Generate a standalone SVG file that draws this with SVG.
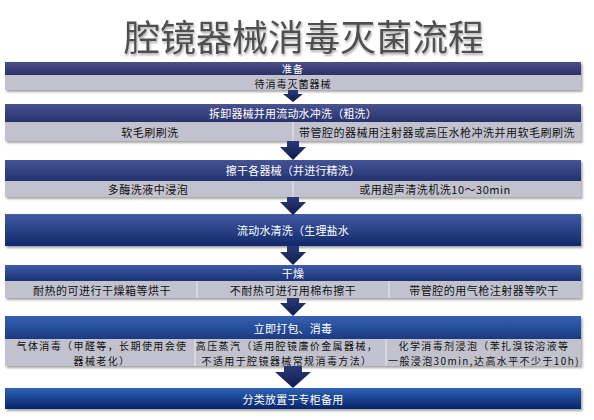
<svg xmlns="http://www.w3.org/2000/svg" width="594" height="420" viewBox="0 0 594 420">
<defs>
<linearGradient id="g1" x1="0" y1="0" x2="0" y2="1"><stop offset="0" stop-color="#4c5089"/><stop offset="1" stop-color="#2c3068"/></linearGradient>
<linearGradient id="g2" x1="0" y1="0" x2="0" y2="1"><stop offset="0" stop-color="#495290"/><stop offset="1" stop-color="#29326c"/></linearGradient>
<linearGradient id="g3" x1="0" y1="0" x2="0" y2="1"><stop offset="0" stop-color="#455496"/><stop offset="1" stop-color="#24326e"/></linearGradient>
<linearGradient id="g4" x1="0" y1="0" x2="0" y2="1"><stop offset="0" stop-color="#405ba4"/><stop offset="1" stop-color="#12286a"/></linearGradient>
<linearGradient id="g5" x1="0" y1="0" x2="0" y2="1"><stop offset="0" stop-color="#3c5ca8"/><stop offset="1" stop-color="#1b3173"/></linearGradient>
<linearGradient id="g6" x1="0" y1="0" x2="0" y2="1"><stop offset="0" stop-color="#3562b2"/><stop offset="1" stop-color="#1c3a82"/></linearGradient>
<linearGradient id="g7" x1="0" y1="0" x2="0" y2="1"><stop offset="0" stop-color="#2f62b6"/><stop offset="1" stop-color="#05246a"/></linearGradient>
<linearGradient id="ga" x1="0" y1="0" x2="0" y2="1"><stop offset="0" stop-color="#2a3a78"/><stop offset="1" stop-color="#101c50"/></linearGradient>
<filter id="sh" x="-5%" y="-30%" width="110%" height="170%"><feDropShadow dx="1.5" dy="2" stdDeviation="1.2" flood-color="#000" flood-opacity="0.35"/></filter>
<filter id="tsh" x="-10%" y="-20%" width="120%" height="150%"><feDropShadow dx="1" dy="2" stdDeviation="1" flood-color="#888" flood-opacity="0.7"/></filter>
</defs>
<style>
text{font-family:"Noto Sans CJK SC","Noto Sans",sans-serif;text-anchor:middle;dominant-baseline:central}
.title{font-size:36px;fill:#4f4f4f;dominant-baseline:auto}
.h{font-size:11px;fill:#ffffff;letter-spacing:0.2px}
.t{font-size:11px;fill:#111111;letter-spacing:0.5px}
.s{font-size:10px;letter-spacing:1px}
.t2{font-size:10px;fill:#111111;letter-spacing:1.4px}
.row{fill:#c1c2cd}
.div{stroke:#e4e5ec;stroke-width:1.2}
.arrow{fill:url(#ga)}
</style>
<rect width="594" height="420" fill="#ffffff"/>
<text class="title" x="304" y="51" filter="url(#tsh)">腔镜器械消毒灭菌流程</text>

<g id="step1" filter="url(#sh)">
<rect x="5" y="62" width="576" height="13" fill="url(#g1)"/>
<rect class="row" x="5" y="75" width="576" height="15"/>
</g>
<g id="step1-text"><text class="h s" x="293" y="68.5">准备</text><text class="t s" x="293" y="83">待消毒灭菌器械</text></g>

<g id="step2" filter="url(#sh)">
<rect x="5" y="104" width="576" height="18" fill="url(#g2)"/>
<rect class="row" x="5" y="122" width="576" height="19"/>
</g>
<g id="step2-text">
<line class="div" x1="293" y1="122" x2="293" y2="141"/>
<text class="h" x="293" y="113">拆卸器械并用流动水冲洗（粗洗）</text>
<text class="t" x="150" y="131.5">软毛刷刷洗</text>
<text class="t" x="437" y="131.5">带管腔的器械用注射器或高压水枪冲洗并用软毛刷刷洗</text>
</g>

<g id="step3" filter="url(#sh)">
<rect x="5" y="160" width="576" height="21" fill="url(#g3)"/>
<rect class="row" x="5" y="181" width="576" height="16"/>
</g>
<g id="step3-text">
<line class="div" x1="293" y1="181" x2="293" y2="197"/>
<text class="h" x="293" y="170">擦干各器械（并进行精洗）</text>
<text class="t" x="148" y="189">多酶洗液中浸泡</text>
<text class="t" x="435" y="189">或用超声清洗机洗10～30min</text>
</g>

<g id="step4" filter="url(#sh)">
<rect x="5" y="214" width="576" height="32" fill="url(#g4)"/>
</g>
<g id="step4-text"><text class="h" x="293" y="230">流动水清洗（生理盐水</text></g>

<g id="step5" filter="url(#sh)">
<rect x="5" y="265" width="576" height="16" fill="url(#g5)"/>
<rect class="row" x="5" y="281" width="576" height="17"/>
</g>
<g id="step5-text">
<line class="div" x1="197" y1="281" x2="197" y2="298"/>
<line class="div" x1="389" y1="281" x2="389" y2="298"/>
<text class="h" x="293" y="273">干燥</text>
<text class="t" x="102" y="289.5">耐热的可进行干燥箱等烘干</text>
<text class="t" x="293" y="289.5">不耐热可进行用棉布擦干</text>
<text class="t" x="484" y="289.5">带管腔的用气枪注射器等吹干</text>
</g>

<g id="step6" filter="url(#sh)">
<rect x="5" y="316" width="576" height="23" fill="url(#g6)"/>
<rect class="row" x="5" y="339" width="576" height="27"/>
</g>
<g id="step6-text">
<line class="div" x1="195" y1="339" x2="195" y2="366"/>
<line class="div" x1="386" y1="339" x2="386" y2="366"/>
<text class="h" x="293" y="328">立即打包、消毒</text>
<text class="t2" x="102" y="345.5">气体消毒（甲醛等，长期使用会使</text>
<text class="t2" x="102" y="360.5">器械老化）</text>
<text class="t2" x="287" y="345.5">高压蒸汽（适用腔镜廉价金属器械，</text>
<text class="t2" x="287" y="360.5">不适用于腔镜器械常规消毒方法）</text>
<text class="t2" x="484" y="345.5">化学消毒剂浸泡（苯扎溴铵溶液等</text>
<text class="t2" x="484" y="360.5">一般浸泡30min,达高水平不少于10h)</text>
</g>

<g id="step7" filter="url(#sh)">
<rect x="5" y="388" width="576" height="21" fill="url(#g7)"/>
</g>
<g id="step7-text"><text class="h" x="293" y="398.5">分类放置于专柜备用</text></g>

<g id="connectors">
<path class="arrow" d="M288 90 H298 V94 H303 L293 102 L283 94 H288 Z"/>
<path class="arrow" d="M287 141 H299 V147 H306 L293 160 L280 147 H287 Z"/>
<path class="arrow" d="M287 197 H299 V202 H306 L293 215 L280 202 H287 Z"/>
<path class="arrow" d="M287 246 H299 V252 H306 L293 265 L280 252 H287 Z"/>
<path class="arrow" d="M287 298 H299 V303 H306 L293 316 L280 303 H287 Z"/>
<path class="arrow" d="M284 366 H302 V372 H311 L293 388 L275 372 H284 Z"/>
</g>
</svg>
